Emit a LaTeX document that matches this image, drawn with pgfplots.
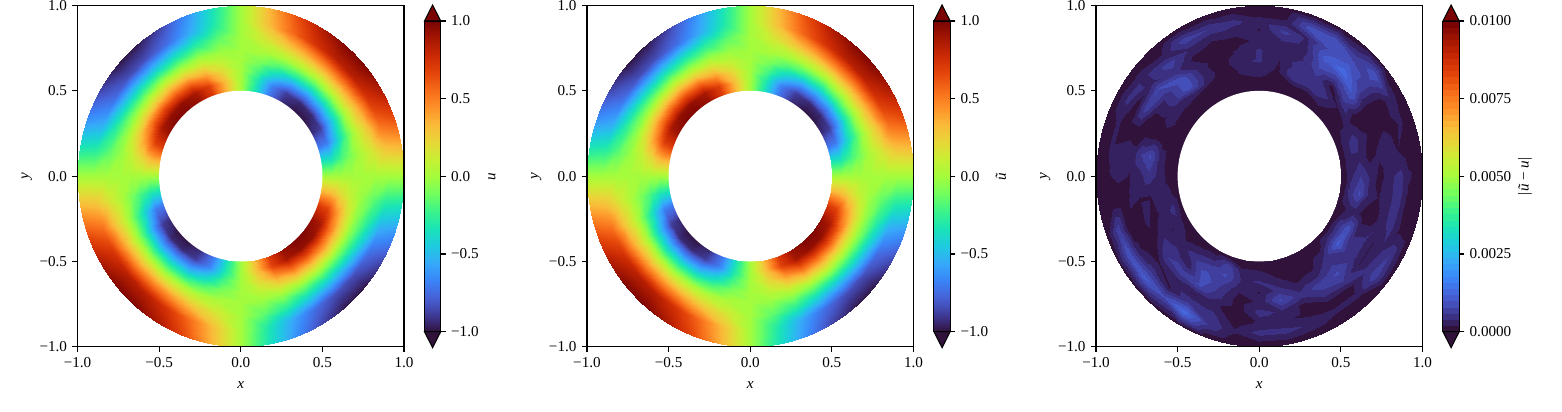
\documentclass[border=0pt]{standalone}
\usepackage{pgfplots}
\usepackage{pgfplotstable}
\usepackage{fontspec}
\setmainfont{Liberation Serif}
\pgfplotsset{compat=1.18}
\pgfplotsset{colormap={turbo}{
rgb255(0cm)=(48,18,59);rgb255(1cm)=(56,39,109);rgb255(2cm)=(63,59,151);rgb255(3cm)=(68,80,187);rgb255(4cm)=(70,98,215);
rgb255(6cm)=(58,133,248);rgb255(8cm)=(54,170,249);rgb255(10cm)=(30,203,223);rgb255(12cm)=(26,228,182);rgb255(14cm)=(60,244,137);
rgb255(16cm)=(114,254,94);rgb255(18cm)=(164,252,60);rgb255(20cm)=(200,239,52);rgb255(22cm)=(231,215,56);rgb255(24cm)=(250,186,57);
rgb255(26cm)=(253,145,41);rgb255(28cm)=(246,107,25);rgb255(30cm)=(227,69,10);rgb255(32cm)=(203,42,4);rgb255(34cm)=(165,23,2);rgb255(36cm)=(122,4,3)}}
\definecolor{cbtop}{RGB}{122,4,3}
\definecolor{cbbot}{RGB}{48,18,59}
% field values on a polar grid: radius r, angle t (degrees), u, u tilde
\pgfplotstableread{
r t u v
0.50 0 0.000 0.001
0.50 10 -0.342 -0.343
0.50 20 -0.720 -0.719
0.50 30 -0.930 -0.931
0.50 40 -0.990 -0.989
0.50 50 -0.990 -0.991
0.50 60 -0.930 -0.929
0.50 70 -0.720 -0.721
0.50 80 -0.342 -0.341
0.50 90 0.000 -0.001
0.50 100 0.342 0.343
0.50 110 0.720 0.719
0.50 120 0.930 0.931
0.50 130 0.990 0.989
0.50 140 0.990 0.991
0.50 150 0.930 0.929
0.50 160 0.720 0.721
0.50 170 0.342 0.341
0.50 180 0.000 0.001
0.50 190 -0.342 -0.343
0.50 200 -0.720 -0.719
0.50 210 -0.930 -0.931
0.50 220 -0.990 -0.989
0.50 230 -0.990 -0.991
0.50 240 -0.930 -0.929
0.50 250 -0.720 -0.721
0.50 260 -0.342 -0.341
0.50 270 0.000 -0.001
0.50 280 0.342 0.343
0.50 290 0.720 0.719
0.50 300 0.930 0.931
0.50 310 0.990 0.989
0.50 320 0.990 0.991
0.50 330 0.930 0.929
0.50 340 0.720 0.721
0.50 350 0.342 0.341
0.50 360 0.000 0.001
0.56 0 0.000 0.001
0.56 10 -0.325 -0.326
0.56 20 -0.684 -0.683
0.56 30 -0.884 -0.885
0.56 40 -0.940 -0.939
0.56 50 -0.940 -0.941
0.56 60 -0.884 -0.883
0.56 70 -0.684 -0.685
0.56 80 -0.325 -0.324
0.56 90 0.000 -0.001
0.56 100 0.325 0.326
0.56 110 0.684 0.683
0.56 120 0.884 0.885
0.56 130 0.940 0.939
0.56 140 0.940 0.941
0.56 150 0.884 0.883
0.56 160 0.684 0.685
0.56 170 0.325 0.324
0.56 180 0.000 0.001
0.56 190 -0.325 -0.326
0.56 200 -0.684 -0.683
0.56 210 -0.884 -0.885
0.56 220 -0.940 -0.939
0.56 230 -0.940 -0.941
0.56 240 -0.884 -0.883
0.56 250 -0.684 -0.685
0.56 260 -0.325 -0.324
0.56 270 0.000 -0.001
0.56 280 0.325 0.326
0.56 290 0.684 0.683
0.56 300 0.884 0.885
0.56 310 0.940 0.939
0.56 320 0.940 0.941
0.56 330 0.884 0.883
0.56 340 0.684 0.685
0.56 350 0.325 0.324
0.56 360 0.000 0.001
0.62 0 0.000 0.001
0.62 10 -0.212 -0.213
0.62 20 -0.446 -0.445
0.62 30 -0.577 -0.578
0.62 40 -0.614 -0.613
0.62 50 -0.614 -0.615
0.62 60 -0.577 -0.576
0.62 70 -0.446 -0.447
0.62 80 -0.212 -0.211
0.62 90 0.000 -0.001
0.62 100 0.212 0.213
0.62 110 0.446 0.445
0.62 120 0.577 0.578
0.62 130 0.614 0.613
0.62 140 0.614 0.615
0.62 150 0.577 0.576
0.62 160 0.446 0.447
0.62 170 0.212 0.211
0.62 180 0.000 0.001
0.62 190 -0.212 -0.213
0.62 200 -0.446 -0.445
0.62 210 -0.577 -0.578
0.62 220 -0.614 -0.613
0.62 230 -0.614 -0.615
0.62 240 -0.577 -0.576
0.62 250 -0.446 -0.447
0.62 260 -0.212 -0.211
0.62 270 0.000 -0.001
0.62 280 0.212 0.213
0.62 290 0.446 0.445
0.62 300 0.577 0.578
0.62 310 0.614 0.613
0.62 320 0.614 0.615
0.62 330 0.577 0.576
0.62 340 0.446 0.447
0.62 350 0.212 0.211
0.62 360 0.000 0.001
0.68 0 0.000 0.001
0.68 10 -0.092 -0.093
0.68 20 -0.194 -0.193
0.68 30 -0.251 -0.252
0.68 40 -0.267 -0.266
0.68 50 -0.267 -0.268
0.68 60 -0.251 -0.250
0.68 70 -0.194 -0.195
0.68 80 -0.092 -0.091
0.68 90 0.000 -0.001
0.68 100 0.092 0.093
0.68 110 0.194 0.193
0.68 120 0.251 0.252
0.68 130 0.267 0.266
0.68 140 0.267 0.268
0.68 150 0.251 0.250
0.68 160 0.194 0.195
0.68 170 0.092 0.091
0.68 180 0.000 0.001
0.68 190 -0.092 -0.093
0.68 200 -0.194 -0.193
0.68 210 -0.251 -0.252
0.68 220 -0.267 -0.266
0.68 230 -0.267 -0.268
0.68 240 -0.251 -0.250
0.68 250 -0.194 -0.195
0.68 260 -0.092 -0.091
0.68 270 0.000 -0.001
0.68 280 0.092 0.093
0.68 290 0.194 0.193
0.68 300 0.251 0.252
0.68 310 0.267 0.266
0.68 320 0.267 0.268
0.68 330 0.251 0.250
0.68 340 0.194 0.195
0.68 350 0.092 0.091
0.68 360 0.000 0.001
0.74 0 0.000 0.001
0.74 10 0.017 0.018
0.74 20 0.032 0.031
0.74 30 0.043 0.044
0.74 40 0.049 0.048
0.74 50 0.049 0.050
0.74 60 0.043 0.042
0.74 70 0.032 0.033
0.74 80 0.017 0.016
0.74 90 0.000 -0.001
0.74 100 -0.017 -0.018
0.74 110 -0.032 -0.031
0.74 120 -0.043 -0.044
0.74 130 -0.049 -0.048
0.74 140 -0.049 -0.050
0.74 150 -0.043 -0.042
0.74 160 -0.032 -0.033
0.74 170 -0.017 -0.016
0.74 180 0.000 0.001
0.74 190 0.017 0.018
0.74 200 0.032 0.031
0.74 210 0.043 0.044
0.74 220 0.049 0.048
0.74 230 0.049 0.050
0.74 240 0.043 0.042
0.74 250 0.032 0.033
0.74 260 0.017 0.016
0.74 270 0.000 -0.001
0.74 280 -0.017 -0.018
0.74 290 -0.032 -0.031
0.74 300 -0.043 -0.044
0.74 310 -0.049 -0.048
0.74 320 -0.049 -0.050
0.74 330 -0.043 -0.042
0.74 340 -0.032 -0.033
0.74 350 -0.017 -0.016
0.74 360 0.000 0.001
0.82 0 0.000 0.001
0.82 10 0.154 0.155
0.82 20 0.289 0.288
0.82 30 0.390 0.391
0.82 40 0.443 0.442
0.82 50 0.443 0.444
0.82 60 0.390 0.389
0.82 70 0.289 0.290
0.82 80 0.154 0.153
0.82 90 0.000 -0.001
0.82 100 -0.154 -0.155
0.82 110 -0.289 -0.288
0.82 120 -0.390 -0.391
0.82 130 -0.443 -0.442
0.82 140 -0.443 -0.444
0.82 150 -0.390 -0.389
0.82 160 -0.289 -0.290
0.82 170 -0.154 -0.153
0.82 180 0.000 0.001
0.82 190 0.154 0.155
0.82 200 0.289 0.288
0.82 210 0.390 0.391
0.82 220 0.443 0.442
0.82 230 0.443 0.444
0.82 240 0.390 0.389
0.82 250 0.289 0.290
0.82 260 0.154 0.153
0.82 270 0.000 -0.001
0.82 280 -0.154 -0.155
0.82 290 -0.289 -0.288
0.82 300 -0.390 -0.391
0.82 310 -0.443 -0.442
0.82 320 -0.443 -0.444
0.82 330 -0.390 -0.389
0.82 340 -0.289 -0.290
0.82 350 -0.154 -0.153
0.82 360 0.000 0.001
0.90 0 0.000 0.001
0.90 10 0.291 0.292
0.90 20 0.547 0.546
0.90 30 0.736 0.737
0.90 40 0.837 0.836
0.90 50 0.837 0.838
0.90 60 0.736 0.735
0.90 70 0.547 0.548
0.90 80 0.291 0.290
0.90 90 0.000 -0.001
0.90 100 -0.291 -0.292
0.90 110 -0.547 -0.546
0.90 120 -0.736 -0.737
0.90 130 -0.837 -0.836
0.90 140 -0.837 -0.838
0.90 150 -0.736 -0.735
0.90 160 -0.547 -0.548
0.90 170 -0.291 -0.290
0.90 180 0.000 0.001
0.90 190 0.291 0.292
0.90 200 0.547 0.546
0.90 210 0.736 0.737
0.90 220 0.837 0.836
0.90 230 0.837 0.838
0.90 240 0.736 0.735
0.90 250 0.547 0.548
0.90 260 0.291 0.290
0.90 270 0.000 -0.001
0.90 280 -0.291 -0.292
0.90 290 -0.547 -0.546
0.90 300 -0.736 -0.737
0.90 310 -0.837 -0.836
0.90 320 -0.837 -0.838
0.90 330 -0.736 -0.735
0.90 340 -0.547 -0.548
0.90 350 -0.291 -0.290
0.90 360 0.000 0.001
1.004 0 0.000 0.001
1.004 10 0.342 0.343
1.004 20 0.643 0.642
1.004 30 0.866 0.867
1.004 40 0.985 0.984
1.004 50 0.985 0.986
1.004 60 0.866 0.865
1.004 70 0.643 0.644
1.004 80 0.342 0.341
1.004 90 0.000 -0.001
1.004 100 -0.342 -0.343
1.004 110 -0.643 -0.642
1.004 120 -0.866 -0.867
1.004 130 -0.985 -0.984
1.004 140 -0.985 -0.986
1.004 150 -0.866 -0.865
1.004 160 -0.643 -0.644
1.004 170 -0.342 -0.341
1.004 180 0.000 0.001
1.004 190 0.342 0.343
1.004 200 0.643 0.642
1.004 210 0.866 0.867
1.004 220 0.985 0.984
1.004 230 0.985 0.986
1.004 240 0.866 0.865
1.004 250 0.643 0.644
1.004 260 0.342 0.341
1.004 270 0.000 -0.001
1.004 280 -0.342 -0.343
1.004 290 -0.643 -0.642
1.004 300 -0.866 -0.867
1.004 310 -0.985 -0.984
1.004 320 -0.985 -0.986
1.004 330 -0.866 -0.865
1.004 340 -0.643 -0.644
1.004 350 -0.342 -0.341
1.004 360 0.000 0.001
}\field
% |u tilde - u| in units of 0.0001, scanlines of constant angle t
\pgfplotstableread{
r t e
0.50 0 0
0.56 0 3
0.62 0 5
0.68 0 3
0.74 0 1
0.80 0 3
0.86 0 4
0.92 0 2
1.004 0 0
0.50 10 0
0.56 10 3
0.62 10 3
0.68 10 1
0.74 10 2
0.80 10 3
0.86 10 1.6
0.92 10 0.6
1.004 10 0
0.50 20 0
0.56 20 3
0.62 20 4
0.68 20 2
0.74 20 1
0.80 20 1.6
0.86 20 1
0.92 20 2
1.004 20 0
0.50 30 0
0.56 30 1.2
0.62 30 2
0.68 30 0.4
0.74 30 0.2
0.80 30 0.2
0.86 30 0.6
0.92 30 3
1.004 30 0
0.50 40 0
0.56 40 0.4
0.62 40 1.6
0.68 40 5
0.74 40 8
0.80 40 6
0.86 40 6
0.92 40 8
1.004 40 0.5
0.50 50 0
0.56 50 2
0.62 50 4
0.68 50 1
0.74 50 6
0.80 50 11
0.86 50 8
0.92 50 5
1.004 50 0.5
0.50 60 0
0.56 60 0.8
0.62 60 5
0.68 60 5
0.74 60 7
0.80 60 9
0.86 60 7
0.92 60 8
1.004 60 0.5
0.50 70 0
0.56 70 1
0.62 70 5
0.68 70 4
0.74 70 3
0.80 70 2.4
0.86 70 3
0.92 70 8
1.004 70 0
0.50 80 0
0.56 80 0.6
0.62 80 1.2
0.68 80 1.6
0.74 80 2
0.80 80 3
0.86 80 5.6
0.92 80 2
1.004 80 0
0.50 90 0
0.56 90 1.2
0.62 90 2.4
0.68 90 3.6
0.74 90 3.6
0.80 90 2
0.86 90 1.6
0.92 90 2
1.004 90 0
0.50 100 0
0.56 100 0.6
0.62 100 2
0.68 100 3
0.74 100 2
0.80 100 1.2
0.86 100 2
0.92 100 4
1.004 100 0
0.50 110 0
0.56 110 0
0.62 110 0.4
0.68 110 0.6
0.74 110 0.6
0.80 110 0.6
0.86 110 2
0.92 110 5
1.004 110 0
0.50 120 0
0.56 120 0.4
0.62 120 1.6
0.68 120 3
0.74 120 2.4
0.80 120 1.2
0.86 120 3
0.92 120 6
1.004 120 0
0.50 130 0
0.56 130 0.6
0.62 130 2
0.68 130 8
0.74 130 8
0.80 130 4
0.86 130 6
0.92 130 2
1.004 130 0
0.50 140 0
0.56 140 0.4
0.62 140 2
0.68 140 4
0.74 140 4
0.80 140 7
0.86 140 3
0.92 140 3
1.004 140 0
0.50 150 0
0.56 150 1
0.62 150 2
0.68 150 1.6
0.74 150 1.6
0.80 150 6
0.86 150 1
0.92 150 4
1.004 150 0
0.50 160 0
0.56 160 0.2
0.62 160 0.4
0.68 160 1
0.74 160 1
0.80 160 1
0.86 160 0.4
0.92 160 2
1.004 160 0
0.50 170 0
0.56 170 0.6
0.62 170 3
0.68 170 7
0.74 170 5
0.80 170 2
0.86 170 2.4
0.92 170 2
1.004 170 0
0.50 180 0
0.56 180 1
0.62 180 3
0.68 180 4.4
0.74 180 2.4
0.80 180 1.6
0.86 180 2
0.92 180 1.6
1.004 180 0
0.50 190 0
0.56 190 2
0.62 190 3
0.68 190 1.6
0.74 190 1.6
0.80 190 2
0.86 190 0.6
0.92 190 0.6
1.004 190 0
0.50 200 0
0.56 200 4
0.62 200 2.4
0.68 200 1.2
0.74 200 2
0.80 200 0.6
0.86 200 1
0.92 200 6
1.004 200 0
0.50 210 0
0.56 210 2.4
0.62 210 1.6
0.68 210 3
0.74 210 1.2
0.80 210 0.6
0.86 210 2
0.92 210 8
1.004 210 0.5
0.50 220 0
0.56 220 1
0.62 220 2.4
0.68 220 4
0.74 220 5
0.80 220 1.6
0.86 220 4
0.92 220 9
1.004 220 0.5
0.50 230 0
0.56 230 2
0.62 230 4.4
0.68 230 2.4
0.74 230 6
0.80 230 2
0.86 230 1.6
0.92 230 7
1.004 230 0.5
0.50 240 0
0.56 240 3
0.62 240 6
0.68 240 8
0.74 240 7
0.80 240 1.6
0.86 240 5
0.92 240 11
1.004 240 0.5
0.50 250 0
0.56 250 6
0.62 250 7
0.68 250 5
0.74 250 4
0.80 250 2
0.86 250 4
0.92 250 5
1.004 250 0
0.50 260 0
0.56 260 2
0.62 260 3
0.68 260 2
0.74 260 0.8
0.80 260 0.6
0.86 260 0.6
0.92 260 2
1.004 260 0
0.50 270 0
0.56 270 2
0.62 270 3.6
0.68 270 1.6
0.74 270 2
0.80 270 4
0.86 270 2
0.92 270 4
1.004 270 0
0.50 280 0
0.56 280 0.8
0.62 280 2
0.68 280 4
0.74 280 7
0.80 280 3
0.86 280 2
0.92 280 4
1.004 280 0
0.50 290 0
0.56 290 0.2
0.62 290 0.6
0.68 290 2
0.74 290 4
0.80 290 1.2
0.86 290 1.2
0.92 290 3
1.004 290 0
0.50 300 0
0.56 300 0.4
0.62 300 1.2
0.68 300 3
0.74 300 6
0.80 300 4
0.86 300 1
0.92 300 2
1.004 300 0
0.50 310 0
0.56 310 1
0.62 310 3.6
0.68 310 5
0.74 310 7
0.80 310 5
0.86 310 1
0.92 310 2
1.004 310 0
0.50 320 0
0.56 320 4
0.62 320 9
0.68 320 5
0.74 320 4
0.80 320 1.6
0.86 320 4
0.92 320 6
1.004 320 0
0.50 330 0
0.56 330 4
0.62 330 8
0.68 330 3
0.74 330 3.6
0.80 330 1.6
0.86 330 3
0.92 330 5
1.004 330 0
0.50 340 0
0.56 340 1.6
0.62 340 2.4
0.68 340 0.8
0.74 340 0.8
0.80 340 3
0.86 340 4
0.92 340 1.2
1.004 340 0
0.50 350 0
0.56 350 4
0.62 350 7
0.68 350 2.4
0.74 350 1.6
0.80 350 3
0.86 350 4
0.92 350 1
1.004 350 0
0.50 360 0
0.56 360 3
0.62 360 5
0.68 360 3
0.74 360 1
0.80 360 3
0.86 360 4
0.92 360 2
1.004 360 0
}\errtab
\pgfplotsset{
 panel/.style={scale only axis,anchor=south west,width=215.49pt,height=225.19pt,view={0}{90},
  xmin=-1,xmax=1,ymin=-1,ymax=1,zmin=-1,zmax=1,axis on top,colormap name=turbo,colorbar,point meta=explicit,
  xtick={-1,-0.5,0,0.5,1},xticklabels={−1.0,−0.5,0.0,0.5,1.0},
  ytick={-1,-0.5,0,0.5,1},yticklabels={−1.0,−0.5,0.0,0.5,1.0},ztick=\empty,
  xtick pos=bottom,ytick pos=left,tick align=outside,
  axis line style={line width=0.7pt},tick style={line width=0.7pt,color=black},major tick length=3.4pt,
  xlabel={\textit{x}},ylabel={\textit{y}},
  every axis x label/.style={at={(axis description cs:0.5,-0.112)},anchor=center},
  every axis y label/.style={at={(axis description cs:-0.155,0.5)},rotate=90,anchor=center}},
 cbstyle/.style={at={(parent axis.south east)},anchor=south west,xshift=4.95pt,yshift=9.9pt,width=10.69pt,height=205.06pt,
  axis line style={line width=0.7pt},tick style={line width=0.7pt,color=black},major tick length=3.4pt,tick align=outside,
  ytick pos=right,yticklabel pos=right}}
\newcommand{\ringclip}{\clip (axis cs:0,0,0) ellipse [x radius=107.745pt,y radius=112.595pt];}
\newcommand{\ringhole}{\fill[white] (axis cs:0,0,0) ellipse [x radius=53.87pt,y radius=56.3pt];}
\begin{document}
\begin{tikzpicture}
\path[use as bounding box] (0,0) rectangle (1030.92pt,271.92pt);
\begin{axis}[panel,at={(51.15pt,43.1pt)},point meta min=-1,point meta max=1,
 colorbar style={cbstyle,ytick={-1,-0.5,0,0.5,1},yticklabels={−1.0,−0.5,0.0,0.5,1.0},ylabel={\textit{u}},
 every axis y label/.style={at={(axis description cs:4.17,0.5)},rotate=90,anchor=center}}]
\ringclip
\addplot3[surf,shader=interp,mesh/cols=37,mesh/rows=8] table[x expr=\thisrow{r}*cos(\thisrow{t}),y expr=\thisrow{r}*sin(\thisrow{t}),z expr=0,meta=u]{\field};
\ringhole
\end{axis}
\begin{axis}[panel,at={(387.4pt,43.1pt)},point meta min=-1,point meta max=1,
 colorbar style={cbstyle,ytick={-1,-0.5,0,0.5,1},yticklabels={−1.0,−0.5,0.0,0.5,1.0},ylabel={\textit{ũ}},
 every axis y label/.style={at={(axis description cs:4.14,0.5)},rotate=90,anchor=center}}]
\ringclip
\addplot3[surf,shader=interp,mesh/cols=37,mesh/rows=8] table[x expr=\thisrow{r}*cos(\thisrow{t}),y expr=\thisrow{r}*sin(\thisrow{t}),z expr=0,meta=v]{\field};
\ringhole
\end{axis}
\begin{axis}[panel,at={(723.36pt,43.1pt)},point meta min=0,point meta max=100,
 colorbar style={cbstyle,ytick={0,25,50,75,100},yticklabels={0.0000,0.0025,0.0050,0.0075,0.0100},ylabel={|\textit{ũ} − \textit{u}|},
 every axis y label/.style={at={(axis description cs:5.06,0.5)},rotate=90,anchor=center}}]
\ringclip
\addplot3[contour filled={number=50},mesh/cols=9,mesh/rows=37] table[x expr=\thisrow{r}*cos(\thisrow{t}),y expr=\thisrow{r}*sin(\thisrow{t}),z expr=0,meta expr=\thisrow{e}*1.2]{\errtab};
\ringhole
\end{axis}
\foreach \xa/\xm/\xb in {280.17/285.52/290.86,616.42/621.77/627.11,952.38/957.73/963.07}{
 \filldraw[fill=cbtop,draw=black,line width=0.7pt,line join=miter] (\xa pt,258.06pt)--(\xm pt,268.62pt)--(\xb pt,258.06pt)--cycle;
 \filldraw[fill=cbbot,draw=black,line width=0.7pt,line join=miter] (\xa pt,53pt)--(\xm pt,42.44pt)--(\xb pt,53pt)--cycle;
}
\end{tikzpicture}
\end{document}
